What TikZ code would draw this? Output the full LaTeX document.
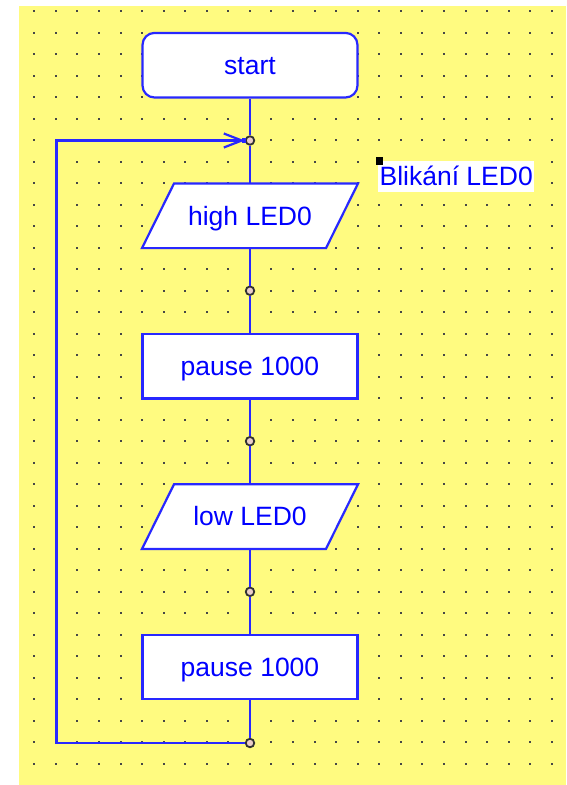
\documentclass[tikz,border=0pt]{standalone}
\usepackage{fontspec}
\setmainfont{Liberation Sans}
\usetikzlibrary{arrows.meta,calc}

\definecolor{paper}{RGB}{255,251,128}
\definecolor{gridgray}{RGB}{70,70,70}
\definecolor{flowblue}{RGB}{40,40,255}
\definecolor{textblue}{RGB}{0,0,255}
\definecolor{jointfill}{RGB}{235,205,200}
\definecolor{jointring}{RGB}{50,50,50}

\tikzset{
  flowline/.style={draw=flowblue, line width=2.2pt},
  blocktext/.style={text=textblue, font=\fontsize{26.5}{30}\selectfont,
    text height=18.5pt, text depth=0pt, inner sep=0pt},
  procbox/.style={blocktext, flowline, fill=white, rectangle,
    minimum width=215pt, minimum height=64.6pt},
  terminal/.style={procbox, rounded corners=12pt},
  iotext/.style={blocktext, rectangle, minimum width=184pt, minimum height=64.6pt},
  joint/.style={circle, draw=jointring, line width=1.8pt, fill=jointfill,
    minimum size=8.5pt, inner sep=0pt},
  tag/.style={blocktext, fill=white, minimum width=155.7pt, minimum height=30.7pt}
}

% input/output block: a slanted parallelogram with its text node on top
\newcommand{\ioblock}[3]{%
  \draw[flowline, fill=white, shift={(#2)}]
    (-108,32.3) -- (-76,-32.3) -- (108,-32.3) -- (76,32.3) -- cycle;
  \node[iotext] (#1) at (#2) {#3};}

\begin{document}
\begin{tikzpicture}[x=1pt,y=-1pt]
\useasboundingbox (0,0) rectangle (566,785);
\fill[white] (0,0) rectangle (566,785);
\fill[paper] (19,6) rectangle (566,785);

% dotted grid
\foreach \i in {0,...,24}{
  \foreach \j in {0,...,35}{
    \fill[gridgray] ({34.3+21.56*\i-1},{11+21.51*\j-1}) rectangle +(2,2);
  }
}

% flowchart blocks and junctions
\node[terminal] (start) at (250,65.2) {start};
\node[joint] (j0) at (250,140.5) {};
\ioblock{high}{250,215.8}{high LED0}
\node[joint] (j1) at (250,290.7) {};
\node[procbox] (p1) at (250,366.2) {pause 1000};
\node[joint] (j2) at (250,441.2) {};
\ioblock{low}{250,516.6}{low LED0}
\node[joint] (j3) at (250,591.8) {};
\node[procbox] (p2) at (250,667) {pause 1000};
\node[joint] (j4) at (250,743) {};
\coordinate (lb) at (56.5,743);
\coordinate (lt) at (56.5,140.5);

% main flow
\draw[flowline] (start) -- (j0);
\draw[flowline] (j0) -- (high);
\draw[flowline] (high) -- (j1);
\draw[flowline] (j1) -- (p1);
\draw[flowline] (p1) -- (j2);
\draw[flowline] (j2) -- (low);
\draw[flowline] (low) -- (j3);
\draw[flowline] (j3) -- (p2);
\draw[flowline] (p2) -- (j4);

% loop back to the top
\draw[flowline, -{Straight Barb[length=18pt,width=14pt]}]
  (j4) -- (lb) -- (lt) -- (j0);
\fill[flowblue] ($(j0)+(-8.5,-2.5)$) rectangle ($(j0)+(-4,2.5)$);

% program name
\node[tag] (title) at (456.2,176.4) {Blikání LED0};
\fill[black] (375.5,156.5) rectangle (382.5,164.5);
\end{tikzpicture}
\end{document}
